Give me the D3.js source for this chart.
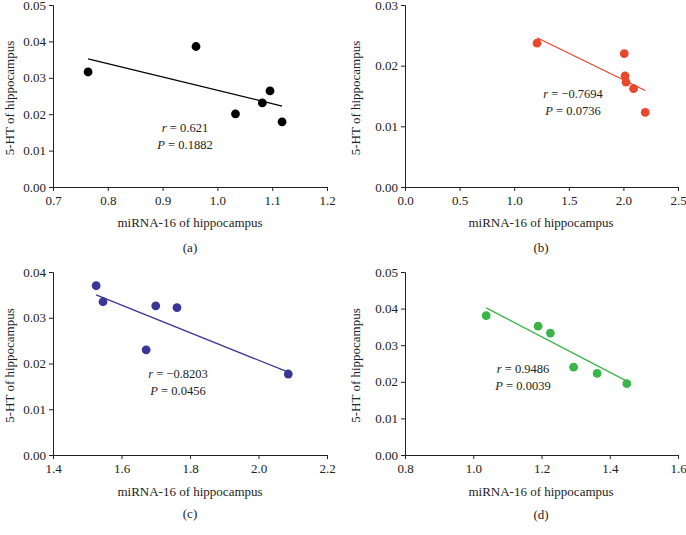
<!DOCTYPE html>
<html>
<head>
<meta charset="utf-8">
<script src="https://cdn.jsdelivr.net/npm/d3@7"></script>
<style>
html,body{margin:0;padding:0;background:#fff;}
svg{display:block;}
text{font-family:"Liberation Serif","DejaVu Serif",serif;fill:#222;}
</style>
</head>
<body>
<svg id="chart" width="686" height="535"></svg>
<script>
// ---- data ----
const panelLabels = ["(a)", "(b)", "(c)", "(d)"];
const xTitle = "miRNA-16 of hippocampus";
const yTitle = "5-HT of hippocampus";

const xA = [0.764, 0.961, 1.033, 1.082, 1.096, 1.118];
const yA = [0.0316, 0.0386, 0.0201, 0.0231, 0.0264, 0.0179];
const lineA = [[0.764, 0.0352], [1.118, 0.02225]];
const statA = ["r = 0.621", "P = 0.1882"];

const xB = [1.209, 2.008, 2.015, 2.024, 2.093, 2.200];
const yB = [0.0237, 0.0220, 0.0183, 0.0173, 0.0162, 0.0123];
const lineB = [[1.209, 0.0246], [2.200, 0.0159]];
const statB = ["r = \u22120.7694", "P = 0.0736"];

const xC = [1.526, 1.546, 1.700, 1.762, 1.672, 2.087];
const yC = [0.0370, 0.0335, 0.0326, 0.0322, 0.0230, 0.0177];
const lineC = [[1.526, 0.0350], [2.087, 0.0181]];
const statC = ["r = \u22120.8203", "P = 0.0456"];

const xD = [1.038, 1.190, 1.226, 1.294, 1.363, 1.450];
const yD = [0.0381, 0.0352, 0.0333, 0.0240, 0.0223, 0.0195];
const lineD = [[1.038, 0.0402], [1.450, 0.0202]];
const statD = ["r = 0.9486", "P = 0.0039"];

const xDomains = [[0.7, 1.2], [0.0, 2.5], [1.4, 2.2], [0.8, 1.6]];
const yDomains = [[0, 0.05], [0, 0.03], [0, 0.04], [0, 0.05]];
const xTickVals = [[0.7,0.8,0.9,1.0,1.1,1.2],[0,0.5,1.0,1.5,2.0,2.5],[1.4,1.6,1.8,2.0,2.2],[0.8,1.0,1.2,1.4,1.6]];
const yTickVals = [[0,0.01,0.02,0.03,0.04,0.05],[0,0.01,0.02,0.03],[0,0.01,0.02,0.03,0.04],[0,0.01,0.02,0.03,0.04,0.05]];
const colors = ["#000000", "#e9472b", "#3a3695", "#3bb54a"];

// ---- layout ----
const panels = [
  {x0:53, x1:327, y0:187, y1:5,   xs:xA, ys:yA, line:lineA, stat:statA, statX:185, statY:128, yTitleX:10,  xTitleX:190, xTitleY:227, labY:252},
  {x0:405,x1:678, y0:187, y1:5,   xs:xB, ys:yB, line:lineB, stat:statB, statX:573, statY:94,  yTitleX:356, xTitleX:541, xTitleY:227, labY:252},
  {x0:53, x1:327, y0:455, y1:272, xs:xC, ys:yC, line:lineC, stat:statC, statX:178, statY:374, yTitleX:10,  xTitleX:190, xTitleY:496, labY:518},
  {x0:405,x1:678, y0:455, y1:272, xs:xD, ys:yD, line:lineD, stat:statD, statX:523, statY:369, yTitleX:356, xTitleX:541, xTitleY:496, labY:519}
];

const svg = d3.select("#chart");

panels.forEach((p, i) => {
  const xS = d3.scaleLinear().domain(xDomains[i]).range([p.x0, p.x1]);
  const yS = d3.scaleLinear().domain(yDomains[i]).range([p.y0, p.y1]);
  const g = svg.append("g");

  const xAxis = d3.axisBottom(xS).tickValues(xTickVals[i]).tickFormat(d3.format(".1f")).tickSizeOuter(0).tickSize(4).tickPadding(5);
  const yAxis = d3.axisLeft(yS).tickValues(yTickVals[i]).tickFormat(d3.format(".2f")).tickSizeOuter(0).tickSize(4).tickPadding(3);

  const gx = g.append("g").attr("transform", `translate(0,${p.y0})`).call(xAxis);
  const gy = g.append("g").attr("transform", `translate(${p.x0},0)`).call(yAxis);
  [gx, gy].forEach(a => {
    a.select(".domain").attr("stroke", "#222").attr("stroke-width", 1);
    a.selectAll(".tick line").attr("stroke", "#222");
    a.selectAll(".tick text").style("font-family", '"Liberation Serif",serif').style("font-size", "13px").attr("fill", "#222");
  });

  // regression line
  g.append("line")
    .attr("x1", xS(p.line[0][0])).attr("y1", yS(p.line[0][1]))
    .attr("x2", xS(p.line[1][0])).attr("y2", yS(p.line[1][1]))
    .attr("stroke", colors[i]).attr("stroke-width", 1.3);

  // points
  g.selectAll("circle").data(p.xs.map((x, k) => [x, p.ys[k]])).enter()
    .append("circle")
    .attr("cx", d => xS(d[0])).attr("cy", d => yS(d[1]))
    .attr("r", 4.4).attr("fill", colors[i]);

  // stats text
  p.stat.forEach((s, k) => {
    const t = g.append("text").attr("x", p.statX).attr("y", p.statY + k * 17 + 4)
      .attr("text-anchor", "middle").style("font-size", "12.5px");
    const parts = s.split(" = ");
    t.append("tspan").attr("font-style", "italic").text(parts[0]);
    t.append("tspan").text(" = " + parts[1]);
  });

  // axis titles
  g.append("text").attr("x", p.xTitleX).attr("y", p.xTitleY).attr("text-anchor", "middle")
    .style("font-size", "13px").text(xTitle);
  const yc = (p.y0 + p.y1) / 2 + 2;
  g.append("text").attr("transform", `translate(${p.yTitleX + 4},${yc}) rotate(-90)`)
    .attr("text-anchor", "middle").style("font-size", "13px").text(yTitle);

  // panel label
  g.append("text").attr("x", p.xTitleX).attr("y", p.labY).attr("text-anchor", "middle")
    .style("font-size", "13px").text(panelLabels[i]);
});
</script>
</body>
</html>
